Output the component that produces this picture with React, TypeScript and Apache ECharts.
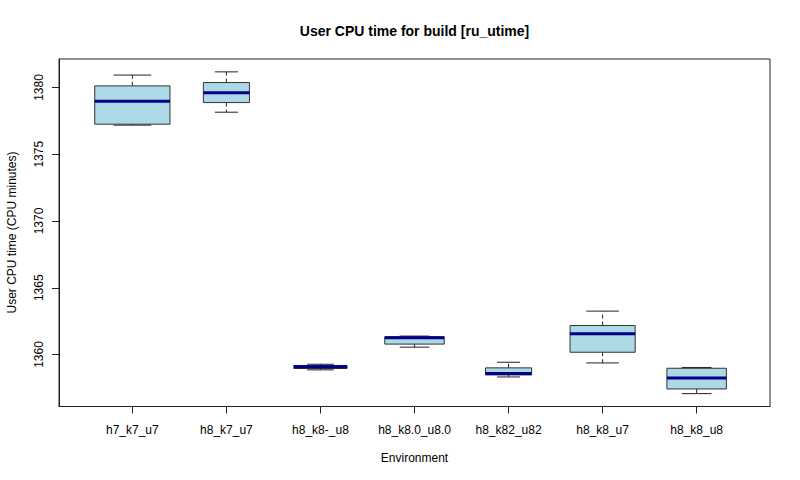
import React, { useEffect, useRef } from "react";
import * as echarts from "echarts";

const categories = ["h7_k7_u7", "h8_k7_u7", "h8_k8-_u8", "h8_k8.0_u8.0", "h8_k82_u82", "h8_k8_u7", "h8_k8_u8"];
const whiskerLow = [1377.18, 1378.15, 1358.85, 1360.55, 1358.32, 1359.37, 1357.07];
const q1 = [1377.25, 1378.87, 1358.95, 1360.78, 1358.47, 1360.17, 1357.42];
const median = [1378.97, 1379.6, 1359.08, 1361.26, 1358.58, 1361.55, 1358.25];
const q3 = [1380.12, 1380.37, 1359.18, 1361.33, 1359.0, 1362.17, 1358.97];
const whiskerHigh = [1380.93, 1381.17, 1359.27, 1361.38, 1359.42, 1363.25, 1359.03];
const counts = [8, 3, 4, 5, 3, 6, 5];
const yTicks = [1360, 1365, 1370, 1375, 1380];

const FONT = "'Liberation Sans', Arial, Helvetica, sans-serif";

export default function App() {
  const ref = useRef<HTMLDivElement>(null);
  useEffect(() => {
    if (!ref.current) return;
    const chart = echarts.init(ref.current, null, { renderer: "svg" });
    const n = categories.length;
    const xLo = 0.5, xHi = n + 0.5;
    const xPad = 0.04 * (xHi - xLo);
    const dMin = Math.min(...whiskerLow);
    const dMax = Math.max(...whiskerHigh);
    const yPad = 0.04 * (dMax - dMin);
    const maxN = Math.max(...counts);
    const data = categories.map((_, i) => [i + 1, whiskerLow[i], q1[i], median[i], q3[i], whiskerHigh[i], counts[i]]);
    const ink = "#222";

    chart.setOption({
      animation: false,
      grid: { left: 59, right: 30, top: 59, bottom: 73.5, show: true, borderColor: ink, borderWidth: 1, backgroundColor: "transparent" },
      xAxis: {
        type: "value",
        min: xLo - xPad,
        max: xHi + xPad,
        splitLine: { show: false },
        axisLine: { show: true, lineStyle: { color: ink, width: 1 } },
        axisTick: { show: true, length: 7, lineStyle: { color: ink }, customValues: categories.map((_, i) => i + 1) },
        axisLabel: {
          color: "#000",
          fontSize: 12,
          fontFamily: FONT,
          margin: 17,
          customValues: categories.map((_, i) => i + 1),
          formatter: (v: number) => categories[Math.round(v) - 1] ?? "",
        },
      },
      yAxis: {
        type: "value",
        min: dMin - yPad,
        max: dMax + yPad,
        splitLine: { show: false },
        axisLine: { show: true, lineStyle: { color: ink, width: 1 } },
        axisTick: { show: true, length: 7, lineStyle: { color: ink }, customValues: yTicks },
        axisLabel: {
          color: "#000",
          fontSize: 12,
          fontFamily: FONT,
          rotate: 90,
          margin: 14,
          customValues: yTicks,
          formatter: (v: number) => String(Math.round(v)),
        },
      },
      graphic: [
        {
          type: "text",
          x: 414.5,
          y: 30.5,
          style: { text: "User CPU time for build [ru_utime]", font: `bold 14px ${FONT}`, fill: "#000", textAlign: "center", textVerticalAlign: "middle", align: "center", verticalAlign: "middle" },
        },
        {
          type: "text",
          x: 414.5,
          y: 457.5,
          style: { text: "Environment", font: `12px ${FONT}`, fill: "#000", textAlign: "center", textVerticalAlign: "middle", align: "center", verticalAlign: "middle" },
        },
        {
          type: "text",
          x: 11.5,
          y: 232.5,
          rotation: Math.PI / 2,
          style: { text: "User CPU time (CPU minutes)", font: `12px ${FONT}`, fill: "#000", textAlign: "center", textVerticalAlign: "middle", align: "center", verticalAlign: "middle" },
        },
      ],
      series: [
        {
          type: "custom",
          data,
          encode: { x: 0, y: [1, 2, 3, 4, 5] },
          renderItem: (params: any, api: any) => {
            const x = api.value(0);
            const lo = api.value(1), a = api.value(2), m = api.value(3), b = api.value(4), hi = api.value(5), cnt = api.value(6);
            const w = 0.8 * Math.sqrt(cnt / maxN);
            const half = api.size([w, 0])[0] / 2;
            const pLo = api.coord([x, lo]);
            const pA = api.coord([x, a]);
            const pM = api.coord([x, m]);
            const pB = api.coord([x, b]);
            const pHi = api.coord([x, hi]);
            const cx = pM[0];
            const cap = half / 2;
            const stroke = { stroke: ink, lineWidth: 1, fill: null };
            const dashed = { stroke: ink, lineWidth: 1, lineDash: [4, 3], fill: null };
            return {
              type: "group",
              children: [
                { type: "line", shape: { x1: cx, y1: pB[1], x2: cx, y2: pHi[1] }, style: dashed },
                { type: "line", shape: { x1: cx, y1: pA[1], x2: cx, y2: pLo[1] }, style: dashed },
                { type: "line", shape: { x1: cx - cap, y1: pHi[1], x2: cx + cap, y2: pHi[1] }, style: stroke },
                { type: "line", shape: { x1: cx - cap, y1: pLo[1], x2: cx + cap, y2: pLo[1] }, style: stroke },
                {
                  type: "rect",
                  shape: { x: cx - half, y: pB[1], width: half * 2, height: pA[1] - pB[1] },
                  style: { fill: "#ADD8E6", stroke: "#333", lineWidth: 1 },
                },
                { type: "line", shape: { x1: cx - half, y1: pM[1], x2: cx + half, y2: pM[1] }, style: { stroke: "#00008B", lineWidth: 3 } },
              ],
            };
          },
        },
      ],
    });
    return () => chart.dispose();
  }, []);
  return <div ref={ref} style={{ position: "fixed", left: 0, top: 0, width: 800, height: 480, background: "#fff" }} />;
}
